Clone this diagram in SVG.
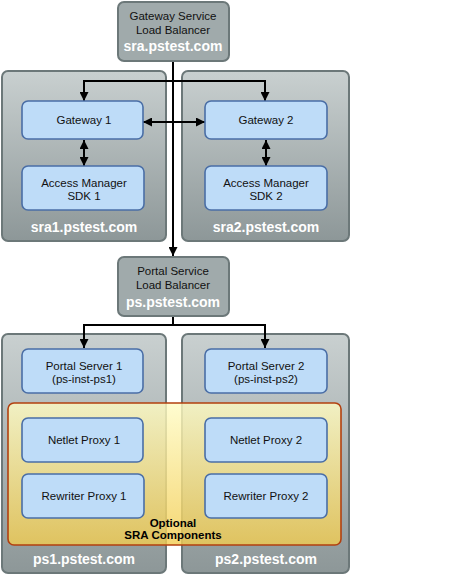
<svg xmlns="http://www.w3.org/2000/svg" width="463" height="575" viewBox="0 0 463 575">
<defs>
<linearGradient id="gCont" x1="0" y1="0" x2="0" y2="1">
<stop offset="0" stop-color="#c9d0d0"/>
<stop offset="1" stop-color="#8d9798"/>
</linearGradient>
<linearGradient id="gOpt" x1="0" y1="0" x2="0" y2="1">
<stop offset="0" stop-color="#fffcc4" stop-opacity="0.8"/>
<stop offset="1" stop-color="#f2cc50" stop-opacity="0.8"/>
</linearGradient>
<marker id="ah" viewBox="0 0 10 10" refX="10" refY="5" markerWidth="9" markerHeight="9" markerUnits="userSpaceOnUse" orient="auto-start-reverse">
<path d="M0,0 L10,5 L0,10 Z" fill="#000"/>
</marker>
<style>
.cont{fill:url(#gCont);stroke:#6c7879;stroke-width:2}
.lb{fill:#a0aaab;stroke:#6c7879;stroke-width:2}
.box{fill:#bedcf8;stroke:#4a6ea6;stroke-width:1.6}
.opt{fill:url(#gOpt);stroke:#b2400f;stroke-width:1.6}
.t{font-family:"Liberation Sans",Arial,sans-serif;font-size:11.5px;fill:#111;text-anchor:middle}
.h{font-family:"Liberation Sans",Arial,sans-serif;font-size:14px;font-weight:bold;fill:#fff;text-anchor:middle}
.b{font-family:"Liberation Sans",Arial,sans-serif;font-size:11.5px;font-weight:bold;fill:#000;text-anchor:middle}
.c{fill:none;stroke:#000;stroke-width:2}
</style>
</defs>
<rect width="463" height="575" fill="#fff"/>

<g id="sra1">
<rect class="cont" x="2" y="71" width="164" height="170" rx="6"/>
<text class="h" x="84" y="232">sra1.pstest.com</text>
</g>
<g id="sra2">
<rect class="cont" x="182" y="71" width="167" height="170" rx="6"/>
<text class="h" x="266" y="232">sra2.pstest.com</text>
</g>
<g id="ps1">
<rect class="cont" x="2" y="334" width="164" height="239" rx="6"/>
<text class="h" x="84" y="564">ps1.pstest.com</text>
</g>
<g id="ps2">
<rect class="cont" x="182" y="334" width="167" height="239" rx="6"/>
<text class="h" x="266" y="564">ps2.pstest.com</text>
</g>

<g id="optional">
<rect class="opt" x="8" y="403" width="333" height="142" rx="6"/>
<text class="b" x="173" y="527">Optional</text>
<text class="b" x="173" y="539">SRA Components</text>
</g>

<g id="connectors">
<line class="c" x1="173" y1="61" x2="173" y2="256" marker-end="url(#ah)"/>
<polyline class="c" points="84,101 84,81 265,81 265,101" marker-start="url(#ah)" marker-end="url(#ah)"/>
<line class="c" x1="143" y1="122" x2="205" y2="122" marker-start="url(#ah)" marker-end="url(#ah)"/>
<line class="c" x1="84" y1="140" x2="84" y2="166" marker-start="url(#ah)" marker-end="url(#ah)"/>
<line class="c" x1="266" y1="140" x2="266" y2="166" marker-start="url(#ah)" marker-end="url(#ah)"/>
<line class="c" x1="173" y1="316" x2="173" y2="325"/>
<polyline class="c" points="84,348 84,325 265,325 265,348" marker-start="url(#ah)" marker-end="url(#ah)"/>
</g>

<g id="gwlb">
<rect class="lb" x="118" y="2" width="111" height="59" rx="6"/>
<text class="t" x="173" y="20">Gateway Service</text>
<text class="t" x="173" y="34">Load Balancer</text>
<text class="h" x="173" y="51">sra.pstest.com</text>
</g>
<g id="pslb">
<rect class="lb" x="118" y="257" width="111" height="59" rx="6"/>
<text class="t" x="173" y="275">Portal Service</text>
<text class="t" x="173" y="289">Load Balancer</text>
<text class="h" x="173" y="307">ps.pstest.com</text>
</g>

<g id="gw1">
<rect class="box" x="22" y="101" width="121" height="38" rx="6"/>
<text class="t" x="84" y="124">Gateway 1</text>
</g>
<g id="gw2">
<rect class="box" x="205" y="101" width="122" height="38" rx="6"/>
<text class="t" x="266" y="124">Gateway 2</text>
</g>
<g id="sdk1">
<rect class="box" x="22" y="166" width="122" height="44" rx="6"/>
<text class="t" x="84" y="187">Access Manager</text>
<text class="t" x="84" y="200">SDK 1</text>
</g>
<g id="sdk2">
<rect class="box" x="205" y="166" width="122" height="44" rx="6"/>
<text class="t" x="266" y="187">Access Manager</text>
<text class="t" x="266" y="200">SDK 2</text>
</g>
<g id="psrv1">
<rect class="box" x="22" y="349" width="121" height="44" rx="6"/>
<text class="t" x="84" y="370">Portal Server 1</text>
<text class="t" x="84" y="383">(ps-inst-ps1)</text>
</g>
<g id="psrv2">
<rect class="box" x="205" y="349" width="122" height="44" rx="6"/>
<text class="t" x="266" y="370">Portal Server 2</text>
<text class="t" x="266" y="383">(ps-inst-ps2)</text>
</g>
<g id="netlet1">
<rect class="box" x="22" y="418" width="121" height="44" rx="6"/>
<text class="t" x="84" y="444">Netlet Proxy 1</text>
</g>
<g id="netlet2">
<rect class="box" x="205" y="418" width="122" height="44" rx="6"/>
<text class="t" x="266" y="444">Netlet Proxy 2</text>
</g>
<g id="rw1">
<rect class="box" x="22" y="474" width="122" height="44" rx="6"/>
<text class="t" x="84" y="500">Rewriter Proxy 1</text>
</g>
<g id="rw2">
<rect class="box" x="205" y="474" width="122" height="44" rx="6"/>
<text class="t" x="266" y="500">Rewriter Proxy 2</text>
</g>
</svg>
